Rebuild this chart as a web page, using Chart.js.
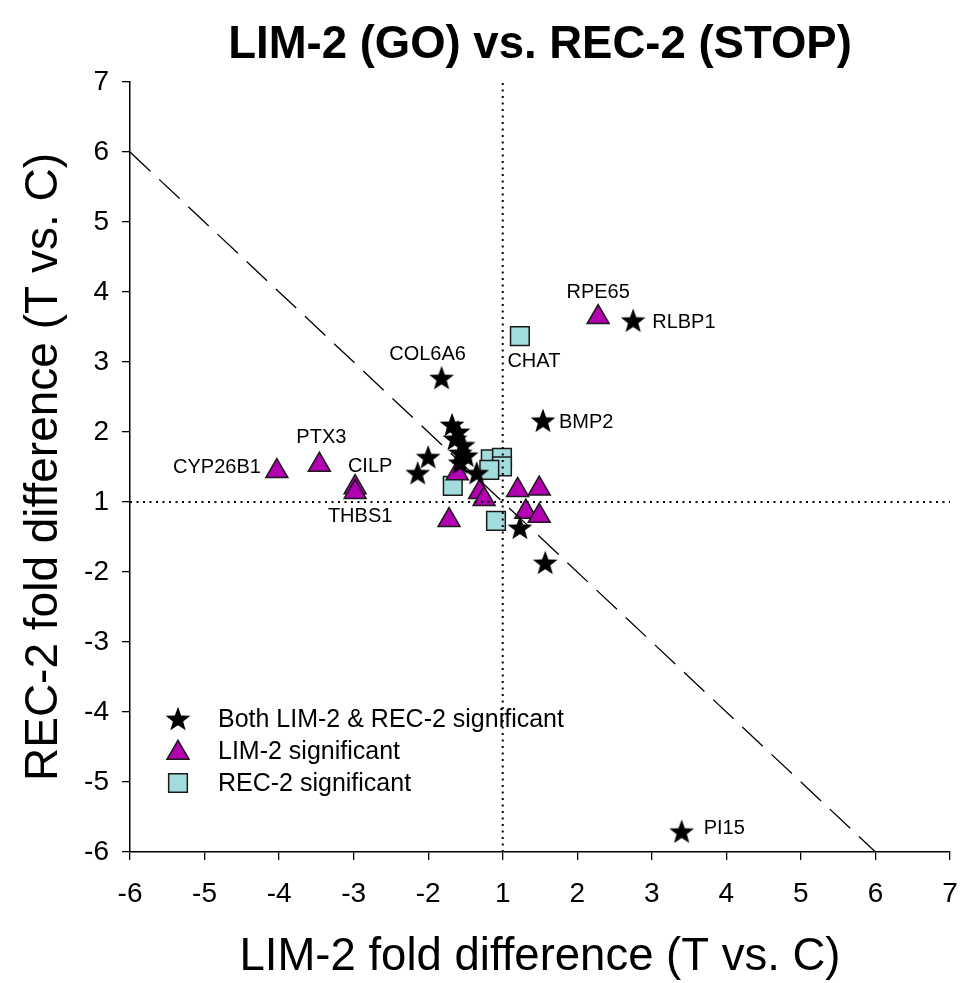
<!DOCTYPE html>
<html><head><meta charset="utf-8">
<script src="https://cdn.jsdelivr.net/npm/chart.js@4.4.1/dist/chart.umd.min.js"></script>
<style>html,body{margin:0;padding:0;background:#fff;} #wrap{width:960px;height:983px;position:relative;}</style>
</head><body><div id="wrap"><canvas id="c" width="960" height="983"></canvas></div>
<script>
const FONT = "'Liberation Sans', Arial, Helvetica, sans-serif";

// Tick labels (the fold-difference axes skip the -1..1 gap)
const xTickLabels = [-6, -5, -4, -3, -2, 1, 2, 3, 4, 5, 6, 7];
const yTickLabels = [7, 6, 5, 4, 3, 2, 1, -2, -3, -4, -5, -6];

// Both LIM-2 & REC-2 significant (fold differences)
const bothX = [2.75, 1.54, -1.82, 3.40, 1.57, 1.23, -1.68, -1.60, -1.64, -1.53, -2.00, -2.14, -1.57, -1.57, -1.35, -1.49];
const bothY = [3.59, 2.16, 2.77, -5.71, -1.87, -1.37, 2.10, 2.00, 1.90, 1.81, 1.64, 1.41, 1.70, 1.56, 1.41, 1.66];
const bothNames = ['RLBP1', 'BMP2', 'COL6A6', 'PI15', '', '', '', '', '', '', '', '', '', '', '', ''];

// LIM-2 significant
const limX = [2.28, -4.03, -3.46, -2.98, -2.98, -1.72, -1.61, -1.31, -1.25, 1.20, 1.49, 1.31, 1.49];
const limY = [3.64, 1.44, 1.53, 1.21, 1.14, -1.26, 1.41, 1.14, 1.04, 1.17, 1.19, -1.14, -1.20];
const limNames = ['RPE65', 'CYP26B1', 'PTX3', 'CILP', 'THBS1', '', '', '', '', '', '', '', ''];

// REC-2 significant
const recX = [1.23, -1.67, -1.09, -1.16, -1.01, -1.01, -1.18];
const recY = [3.37, 1.23, -1.27, 1.61, 1.63, 1.51, 1.46];
const recNames = ['CHAT', '', '', '', '', '', ''];

// Reference lines (fold units)
const noChange = 1;
const diagX = [-6, 6];
const diagY = [6, -6];

const seriesLabels = ['Both LIM-2 & REC-2 significant', 'LIM-2 significant', 'REC-2 significant'];

// fold difference -> axis coordinate (1 and -1 coincide)
function toAxis(f) { return f >= 1 ? f : f + 2; }
function pts(xs, ys, names) { return xs.map((x, i) => ({ x: toAxis(x), y: toAxis(ys[i]), name: names ? names[i] : '' })); }

function makeStar(R, r) {
  const s = Math.ceil(2 * R + 4);
  const c = document.createElement('canvas');
  c.width = s; c.height = s;
  const g = c.getContext('2d');
  g.translate(s / 2, s / 2 + 0.8);
  g.beginPath();
  for (let i = 0; i < 10; i++) {
    const rad = i % 2 === 0 ? R : r;
    const a = -Math.PI / 2 + i * Math.PI / 5;
    const px = Math.cos(a) * rad, py = Math.sin(a) * rad;
    if (i === 0) g.moveTo(px, py); else g.lineTo(px, py);
  }
  g.closePath();
  g.fillStyle = '#000';
  g.fill();
  return c;
}
const starImg = makeStar(13, 5.4);

const MAGENTA = '#b200b2';
const CYAN = '#a3dcdc';
const EDGE = '#1a1a1a';

// label placement (pixel offsets from the point), not data
const labelPlacement = {
  RLBP1: [19, 2, 'left'], BMP2: [16, 2, 'left'], COL6A6: [-14, -24, 'center'], PI15: [22, -3, 'left'],
  RPE65: [0, -25, 'center'], CYP26B1: [-16, -4, 'right'], PTX3: [2, -27, 'center'],
  CILP: [15, -21, 'center'], THBS1: [5, 24, 'center'], CHAT: [14, 25, 'center']
};

const titlePlugin = {
  id: 'titlePlugin',
  afterDraw(chart) {
    const ctx = chart.ctx, a = chart.chartArea;
    ctx.save();
    ctx.font = 'bold 45.5px ' + FONT;
    ctx.fillStyle = '#000';
    ctx.textAlign = 'center';
    ctx.textBaseline = 'alphabetic';
    ctx.fillText('LIM-2 (GO) vs. REC-2 (STOP)', (a.left + a.right) / 2, 58);
    ctx.restore();
  }
};

const labelPlugin = {
  id: 'labelPlugin',
  afterDatasetsDraw(chart) {
    const ctx = chart.ctx;
    ctx.save();
    ctx.font = '20px ' + FONT;
    ctx.fillStyle = '#000';
    ctx.textBaseline = 'middle';
    chart.data.datasets.forEach((ds, di) => {
      const meta = chart.getDatasetMeta(di);
      ds.data.forEach((p, i) => {
        if (!p.name || !labelPlacement[p.name]) return;
        const el = meta.data[i];
        const [dx, dy, al] = labelPlacement[p.name];
        ctx.textAlign = al;
        ctx.fillText(p.name, el.x + dx, el.y + dy);
      });
    });
    ctx.restore();
  }
};

const legendPlugin = {
  id: 'legendPlugin',
  afterDraw(chart) {
    const ctx = chart.ctx;
    const styles = [
      { pointStyle: starImg, radius: 12, rotation: 0, borderWidth: 0, fill: '#000', stroke: '#000' },
      { pointStyle: 'triangle', radius: 12.7, rotation: 0, borderWidth: 1.5, fill: MAGENTA, stroke: EDGE },
      { pointStyle: 'rect', radius: 13.2, rotation: 0, borderWidth: 1.5, fill: CYAN, stroke: EDGE }
    ];
    const mx = 178, tx = 218, y0 = 719, dy = 32;
    ctx.save();
    styles.forEach((s, i) => {
      ctx.fillStyle = s.fill; ctx.strokeStyle = s.stroke; ctx.lineWidth = s.borderWidth;
      Chart.helpers.drawPoint(ctx, s, mx, y0 + i * dy + (i === 1 ? 2 : 0));
    });
    ctx.font = '25px ' + FONT;
    ctx.fillStyle = '#000';
    ctx.textAlign = 'left';
    ctx.textBaseline = 'middle';
    seriesLabels.forEach((t, i) => ctx.fillText(t, tx, y0 + i * dy + 1));
    ctx.restore();
  }
};

const zeroPad = () => ({ left: 0, top: 0, right: 0, bottom: 0 });

const axisCommon = (labels) => ({
  type: 'linear', min: -4, max: 7,
  ticks: {
    stepSize: 1, autoSkip: false, color: '#000', font: { family: FONT, size: 28 },
    callback: (v) => { const k = Math.round(v) + 4; return labels[k] !== undefined ? String(labels[k]) : ''; }
  },
  grid: { display: true, drawOnChartArea: false, drawTicks: true, tickLength: 8, color: '#000', lineWidth: 1.3 },
  border: { display: true, color: '#000', width: 1.5 }
});

const xAxis = axisCommon(xTickLabels);
xAxis.ticks.padding = 17;
xAxis.title = { display: true, text: 'LIM-2 fold difference (T vs. C)', color: '#000', font: { family: FONT, size: 45.5 }, padding: { top: 0, bottom: -2 } };
xAxis.afterFit = (s) => { s.height = 131; s.paddingLeft = 0; s.paddingRight = 0; s.getPadding = zeroPad; };

const yAxis = axisCommon(yTickLabels.slice().reverse());
yAxis.ticks.padding = 13;
yAxis.title = { display: true, text: 'REC-2 fold difference (T vs. C)', color: '#000', font: { family: FONT, size: 46 }, padding: { top: 17, bottom: 0 } };
yAxis.afterFit = (s) => { s.width = 130; s.paddingTop = 0; s.paddingBottom = 0; s.getPadding = zeroPad; };

new Chart(document.getElementById('c'), {
  type: 'scatter',
  data: {
    datasets: [
      { label: 'vline', data: [{ x: toAxis(noChange), y: -4 }, { x: toAxis(noChange), y: 7 }], showLine: true, pointRadius: 0, borderColor: '#000', borderWidth: 2, borderDash: [2, 4.5], order: 0 },
      { label: 'hline', data: [{ x: -4, y: toAxis(noChange) }, { x: 7, y: toAxis(noChange) }], showLine: true, pointRadius: 0, borderColor: '#000', borderWidth: 2, borderDash: [2, 4.5], order: 0 },
      { label: 'diag', data: pts(diagX, diagY), showLine: true, pointRadius: 0, borderColor: '#000', borderWidth: 1.3, borderDash: [28, 12], order: 0 },
      { label: seriesLabels[0], data: pts(bothX, bothY, bothNames), pointStyle: starImg, pointRadius: 12, backgroundColor: '#000', borderColor: '#000', order: 1 },
      { label: seriesLabels[1], data: pts(limX, limY, limNames), pointStyle: 'triangle', pointRadius: 12.7, backgroundColor: MAGENTA, borderColor: EDGE, borderWidth: 1.5, order: 2 },
      { label: seriesLabels[2], data: pts(recX, recY, recNames), pointStyle: 'rect', pointRadius: 13.2, backgroundColor: CYAN, borderColor: EDGE, borderWidth: 1.5, order: 3 }
    ]
  },
  options: {
    responsive: false, animation: false, devicePixelRatio: 1,
    layout: { autoPadding: false, padding: { top: 82, right: 10, left: 0, bottom: 0 } },
    plugins: { legend: { display: false }, tooltip: { enabled: false }, title: { display: false } },
    scales: { x: xAxis, y: yAxis }
  },
  plugins: [titlePlugin, labelPlugin, legendPlugin]
});
</script>
</body></html>
